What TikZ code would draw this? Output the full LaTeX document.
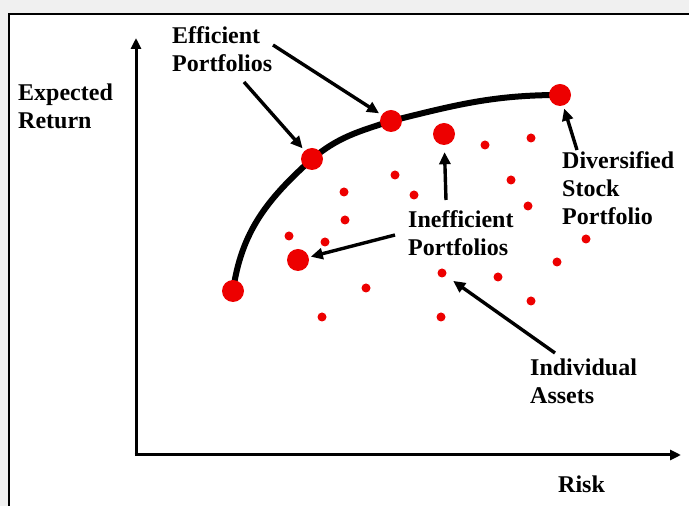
\documentclass[tikz,border=0pt]{standalone}
\usepackage{fontspec}
\setmainfont{Liberation Serif}
\usetikzlibrary{arrows.meta, positioning, calc, shapes}
\definecolor{dotred}{rgb}{0.93,0.0,0.0}
\definecolor{panelgray}{rgb}{0.94,0.94,0.94}
\pgfdeclarelayer{bg}
\pgfsetlayers{bg,main}

\begin{document}
\begin{tikzpicture}[x=1pt,y=1pt,
    bigdot/.style={circle,fill=dotred,inner sep=0pt,minimum size=22pt},
    smalldot/.style={circle,fill=dotred,inner sep=0pt,minimum size=9pt},
    lbl/.style={align=left,anchor=west,inner sep=0pt,font=\fontsize{24}{28}\selectfont\bfseries},
    pointer/.style={line width=3.4pt,-{Triangle[length=12pt,width=11pt]}},
    axis/.style={line width=3pt,-{Triangle[length=11pt,width=10pt]}}]
        \useasboundingbox (0,0) rectangle (689,506);
        \begin{pgfonlayer}{bg}
        \fill[panelgray] (0,0) rectangle (689,506);
        \fill[white] (9,0) rectangle (689,492);
        \draw[line width=2pt] (9,0) -- (9,492) -- (689,492);
        \end{pgfonlayer}
        % axes
        \coordinate (origin) at (136,51);
        \coordinate (ytop) at (136,468);
        \coordinate (xend) at (681,51);
        \draw[axis] (origin) -- (ytop);
        \draw[axis] ([xshift=-1.5pt]origin) -- (xend);
        % efficient frontier
        \draw (233,215) node[bigdot] (e1){};
        \draw (312,347) node[bigdot] (e2){};
        \draw (391,385) node[bigdot] (e3){};
        \draw (560,411) node[bigdot] (e4){};
        \begin{pgfonlayer}{bg}
        \draw[line width=6pt] (e1.center) to[out=82,in=-138] (e2.center)
            to[out=40,in=-162] (e3.center) to[out=14,in=180] (e4.center);
        \end{pgfonlayer}
        % inefficient portfolios
        \draw (444,372) node[bigdot] (i1){};
        \draw (298,246) node[bigdot] (i2){};
        % individual assets
        \draw (442,233) node[smalldot] (a1){};
        \foreach \px/\py in {485/361,531/368,395/331,511/326,344/314,414/311,528/300,
            345/286,289/270,325/264,586/267,557/244,498/229,366/218,531/205,322/189,441/189}
            \draw (\px,\py) node[smalldot] {};
        % labels
        \draw (18,400) node[lbl] (ylab){Expected\\Return};
        \draw (558,22) node[lbl] (xlab){Risk};
        \draw (172,457) node[lbl] (eff){Efficient\\Portfolios};
        \draw (408,273) node[lbl] (ineff){Inefficient\\Portfolios};
        \draw (562,318) node[lbl] (div){Diversified\\Stock\\Portfolio};
        \draw (530,125) node[lbl] (ind){Individual\\Assets};
        % pointers
        \coordinate (effa) at (273,461);
        \coordinate (effb) at (244,424);
        \coordinate (diva) at (577,356);
        \coordinate (inea) at (446,306);
        \coordinate (ineb) at (395,271);
        \coordinate (inda) at (555,153);
        \draw[pointer,shorten >=3pt] (effa) -- (e3);
        \draw[pointer,shorten >=3pt] (effb) -- (e2);
        \draw[pointer,shorten >=3pt] (diva) -- (e4);
        \draw[pointer,shorten >=7pt] (inea) -- (i1);
        \draw[pointer,shorten >=2pt] (ineb) -- (i2);
        \draw[pointer,shorten >=9pt] (inda) -- (a1);
      \end{tikzpicture}
\end{document}
